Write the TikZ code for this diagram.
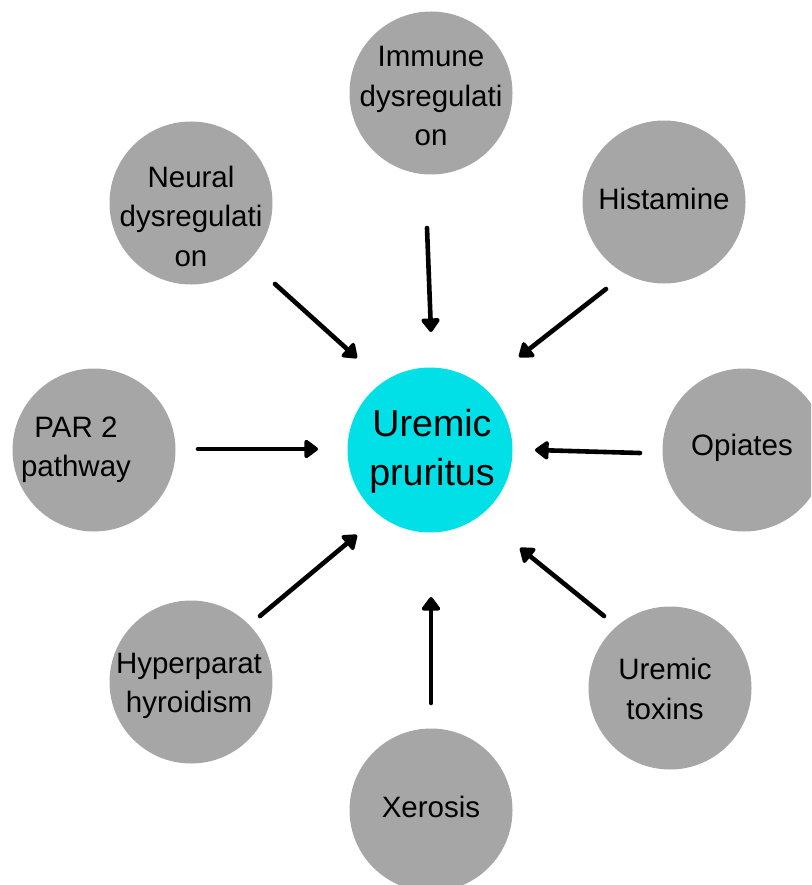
\documentclass[tikz,border=0pt]{standalone}
\usepackage{fontspec}
\setmainfont{Liberation Sans}
\usetikzlibrary{arrows.meta}
\definecolor{circgray}{RGB}{166,166,166}
\definecolor{hubcyan}{RGB}{0,224,230}
\begin{document}
\begin{tikzpicture}[x=1pt,y=-1pt,
  bubble/.style={circle, fill=circgray, minimum size=163pt, inner sep=0pt},
  hub/.style={circle, fill=hubcyan, minimum size=165pt, inner sep=0pt},
  lbl/.style={align=center, font=\fontsize{29.5}{39.5}\selectfont, inner sep=0pt},
  hublbl/.style={align=center, font=\fontsize{37.6}{49}\selectfont, inner sep=0pt},
  link/.style={line width=4.6pt, line cap=round, -{Triangle[length=15pt,width=21pt,round]}}
]
\useasboundingbox (0,0) rectangle (811,885);
\clip (0,0) rectangle (811,885);

% circles
\node[hub] (hubc) at (430,450) {};
\node[bubble] (imm) at (431,93) {};
\node[bubble] (neu) at (191,203) {};
\node[bubble] (his) at (664,202) {};
\node[bubble] (par) at (94,450) {};
\node[bubble] (opi) at (744,450) {};
\node[bubble] (hyp) at (191,682) {};
\node[bubble] (tox) at (670,688) {};
\node[bubble] (xer) at (431,810) {};

% labels
\node[hublbl] (hubt) at (432,451) {Uremic\\pruritus};
\node[lbl] (immt) at (431,96) {Immune\\dysregulati\\on};
\node[lbl] (neut) at (191,216) {Neural\\dysregulati\\on};
\node[lbl] (hist) at (664,199) {Histamine};
\node[lbl] (part) at (76,450) {PAR 2\\pathway};
\node[lbl] (opit) at (742,448) {Opiates};
\node[lbl] (hypt) at (189,686) {Hyperparat\\hyroidism};
\node[lbl] (toxt) at (665,689) {Uremic\\toxins};
\node[lbl] (xert) at (431,807) {Xerosis};

% arrow end points
\coordinate (immA) at (427,228);
\coordinate (immB) at (431,332);
\coordinate (neuA) at (275,284);
\coordinate (neuB) at (357,358);
\coordinate (hisA) at (606,289);
\coordinate (hisB) at (519,357);
\coordinate (parA) at (198,449);
\coordinate (parB) at (318,449);
\coordinate (opiA) at (640,453);
\coordinate (opiB) at (535,450);
\coordinate (hypA) at (260,616);
\coordinate (hypB) at (357,535);
\coordinate (toxA) at (604,616);
\coordinate (toxB) at (520,548);
\coordinate (xerA) at (431,703);
\coordinate (xerB) at (431,597);

\draw[link] (immA) -- (immB);
\draw[link] (neuA) -- (neuB);
\draw[link] (hisA) -- (hisB);
\draw[link] (parA) -- (parB);
\draw[link] (opiA) -- (opiB);
\draw[link] (hypA) -- (hypB);
\draw[link] (toxA) -- (toxB);
\draw[link] (xerA) -- (xerB);
\end{tikzpicture}
\end{document}
